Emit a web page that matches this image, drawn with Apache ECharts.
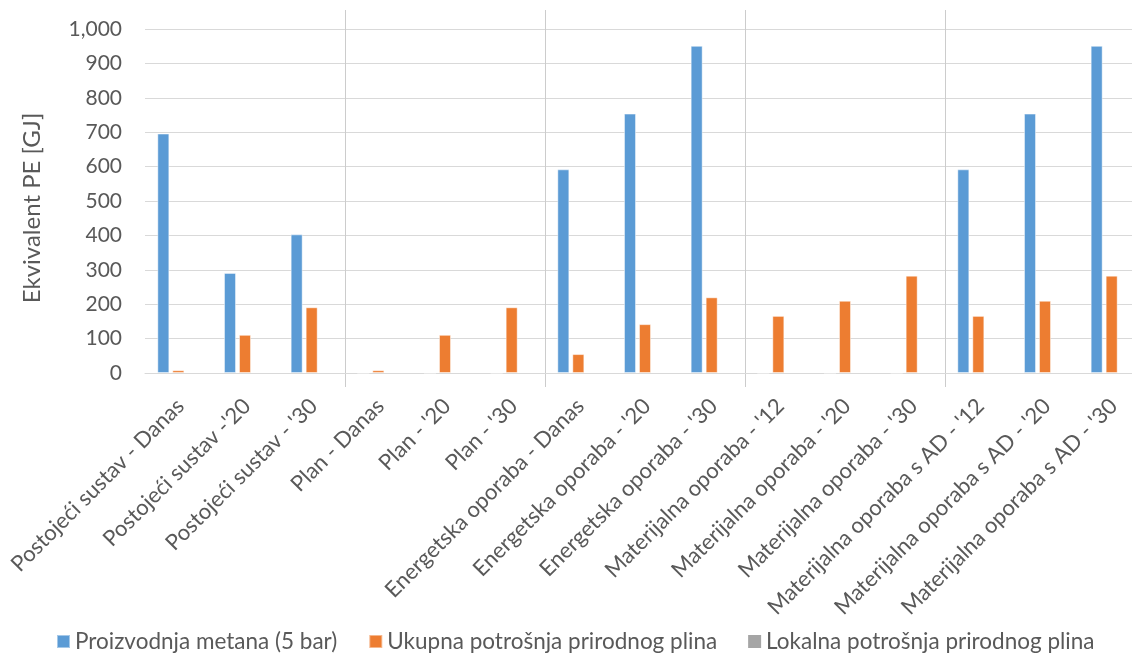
<!DOCTYPE html>
<html>
<head>
<meta charset="utf-8">
<script src="https://cdn.jsdelivr.net/npm/echarts@6/dist/echarts.min.js"></script>
<style>html,body{margin:0;padding:0;background:#fff}#c{width:1132px;height:653px}</style>
</head>
<body>
<div id="c"></div>
<script>
const categories = [
  "Postojeći sustav - Danas", "Postojeći sustav -'20", "Postojeći sustav - '30",
  "Plan - Danas", "Plan - '20", "Plan - '30",
  "Energetska oporaba - Danas", "Energetska oporaba - '20", "Energetska oporaba - '30",
  "Materijalna oporaba - '12", "Materijalna oporaba - '20", "Materijalna oporaba - '30",
  "Materijalna oporaba s AD - '12", "Materijalna oporaba s AD - '20", "Materijalna oporaba s AD - '30"
];
const seriesNames = ["Proizvodnja metana (5 bar)", "Ukupna potrošnja prirodnog plina", "Lokalna potrošnja prirodnog plina"];
const proizvodnjaMetana = [696, 291, 403, 0, 0, 0, 592, 754, 951, 0, 0, 0, 592, 754, 951];
const ukupnaPotrosnja   = [8, 111, 191, 8, 111, 191, 55, 142, 220, 166, 210, 283, 166, 210, 283];
const lokalnaPotrosnja  = [0, 0, 0, 0, 0, 0, 0, 0, 0, 0, 0, 0, 0, 0, 0];
const yTicks = { min: 0, max: 1000, interval: 100 };

const FONT = 'Lato';
const TXT = '#595959';
const chart = echarts.init(document.getElementById('c'), null, { renderer: 'canvas' });
chart.setOption({
  animation: false,
  textStyle: { fontFamily: FONT },
  grid: [
    { left: 145, width: 1000, top: 29, height: 344, containLabel: false, outerBoundsMode: 'none' },
    { left: 145, width: 1000, top: 10, height: 377, containLabel: false, outerBoundsMode: 'none' }
  ],
  legend: {
    data: seriesNames,
    left: 51, top: 625,
    icon: 'rect', itemWidth: 13, itemHeight: 13, itemGap: 31,
    textStyle: { fontFamily: FONT, fontSize: 22.5, color: TXT }
  },
  xAxis: [
    {
      type: 'category', data: categories, gridIndex: 0,
      axisLine: { show: true, lineStyle: { color: '#d9d9d9', width: 1 } },
      axisTick: { show: false },
      axisLabel: { interval: 0, rotate: 45, margin: 16, verticalAlign: 'top', padding: [0, 8, 0, 0],
        fontFamily: FONT, fontSize: 22, color: TXT }
    },
    {
      type: 'category', data: categories, gridIndex: 1,
      axisLine: { show: false }, axisTick: { show: false }, axisLabel: { show: false },
      splitLine: { show: true, interval: function (i) { return i > 0 && i % 3 === 0; }, lineStyle: { color: '#cccccc', width: 1 } }
    }
  ],
  yAxis: [
    {
      type: 'value', gridIndex: 0, min: yTicks.min, max: yTicks.max, interval: yTicks.interval,
      name: 'Ekvivalent PE [GJ]', nameLocation: 'middle', nameRotate: 90, nameGap: 101,
      nameTextStyle: { fontFamily: FONT, fontSize: 24, color: TXT, padding: [0, 14, 0, 0] },
      axisLine: { show: false }, axisTick: { show: false },
      axisLabel: { margin: 23, fontFamily: FONT, fontSize: 21, color: TXT,
        formatter: function (v) { return v.toLocaleString('en-US'); } },
      splitLine: { show: true, lineStyle: { color: '#d9d9d9', width: 1 } }
    },
    { type: 'value', gridIndex: 1, show: false, min: 0, max: 1 }
  ],
  series: [
    { name: seriesNames[0], type: 'bar', data: proizvodnjaMetana, barWidth: 12, barGap: '25%',
      itemStyle: { color: '#5b9bd5', borderColor: 'rgba(255,255,255,0.45)', borderWidth: 1 } },
    { name: seriesNames[1], type: 'bar', data: ukupnaPotrosnja, barWidth: 12, barGap: '25%',
      itemStyle: { color: '#ed7d31', borderColor: 'rgba(255,255,255,0.45)', borderWidth: 1 } },
    { name: seriesNames[2], type: 'bar', data: lokalnaPotrosnja, barWidth: 12, barGap: '25%',
      itemStyle: { color: '#a5a5a5', borderWidth: 0 } },
    { type: 'bar', xAxisIndex: 1, yAxisIndex: 1, data: [], silent: true }
  ]
});
</script>
</body>
</html>
